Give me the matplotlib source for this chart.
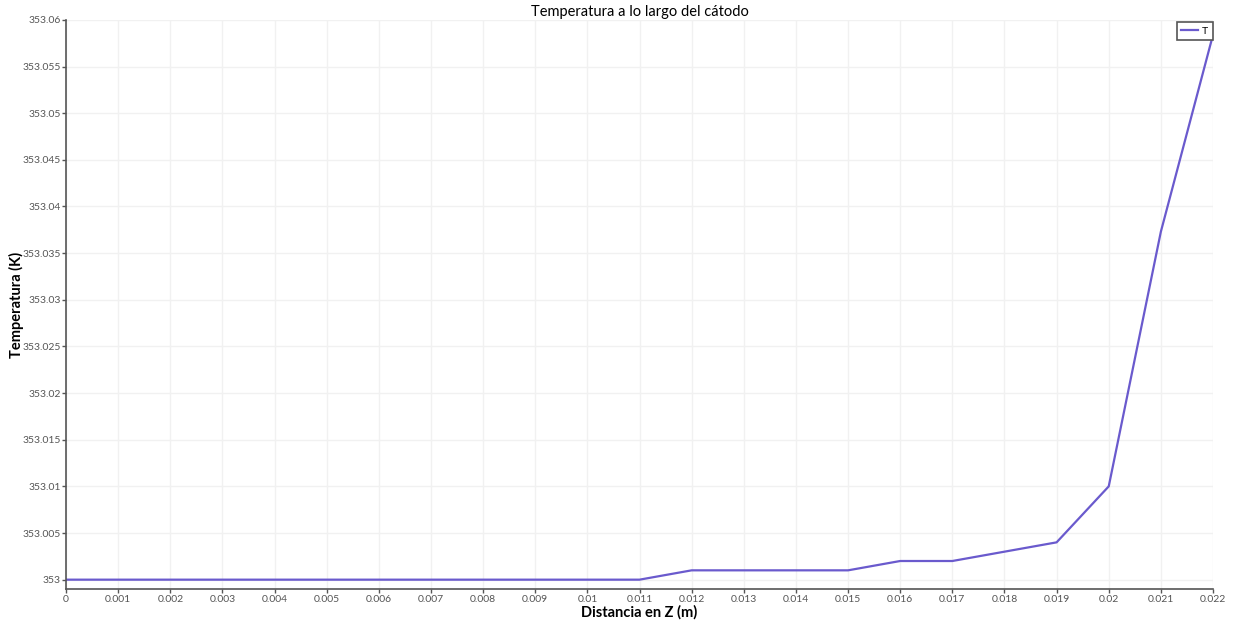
import numpy as np
import matplotlib.pyplot as plt
from matplotlib.ticker import FuncFormatter, MultipleLocator

plt.rcParams['font.family'] = ['Lato', 'DejaVu Sans']

# temperature profile along the cathode
z = [0.000, 0.001, 0.002, 0.003, 0.004, 0.005, 0.006, 0.007, 0.008, 0.009,
     0.010, 0.011, 0.012, 0.013, 0.014, 0.015, 0.016, 0.017, 0.018, 0.019,
     0.020, 0.021, 0.022]
temp = [353.0, 353.0, 353.0, 353.0, 353.0, 353.0, 353.0, 353.0, 353.0, 353.0,
        353.0, 353.0, 353.001, 353.001, 353.001, 353.001, 353.002, 353.002,
        353.003, 353.004, 353.010, 353.0373, 353.0584]


def short_fmt(v, pos):
    s = f'{round(v, 4):.4f}'.rstrip('0').rstrip('.')
    return s


fig = plt.figure(figsize=(12.37, 6.24), dpi=100)
ax = fig.add_axes([0.0534, 0.0561, 0.9272, 0.912])

ax.plot(z, temp, color='#6a5acd', linewidth=1.6, label='T')

ax.set_xlim(0, 0.022)
ax.set_ylim(352.999, 353.06)
ax.xaxis.set_major_locator(MultipleLocator(0.001))
ax.yaxis.set_major_locator(MultipleLocator(0.005))
ax.xaxis.set_major_formatter(FuncFormatter(short_fmt))
ax.yaxis.set_major_formatter(FuncFormatter(short_fmt))

ax.grid(True, color='#f1f1f1', linewidth=1.0)
ax.set_axisbelow(True)
for side in ['top', 'right']:
    ax.spines[side].set_visible(False)
for side in ['left', 'bottom']:
    ax.spines[side].set_color('#555555')
    ax.spines[side].set_linewidth(1.2)
ax.tick_params(axis='both', labelsize=7.5, labelcolor='#555555', color='#555555',
               length=3, width=1, pad=1)

ax.set_title('Temperatura a lo largo del cátodo', fontsize=10.5, pad=3)
ax.set_xlabel('Distancia en Z (m)', fontsize=10.5, fontweight='bold', labelpad=1)
ax.set_ylabel('Temperatura (K)', fontsize=10.5, fontweight='bold')
ax.yaxis.set_label_coords(-0.037, 0.5)

leg = ax.legend(loc='upper right', fontsize=7.5, handlelength=1.6,
                handletextpad=0.4, fancybox=False, framealpha=1,
                borderpad=0.45, borderaxespad=0.0,
                bbox_to_anchor=(1.0, 0.997))
leg.get_frame().set_edgecolor('#555555')
leg.get_frame().set_linewidth(1.2)

fig.savefig('out.png', dpi=100)
